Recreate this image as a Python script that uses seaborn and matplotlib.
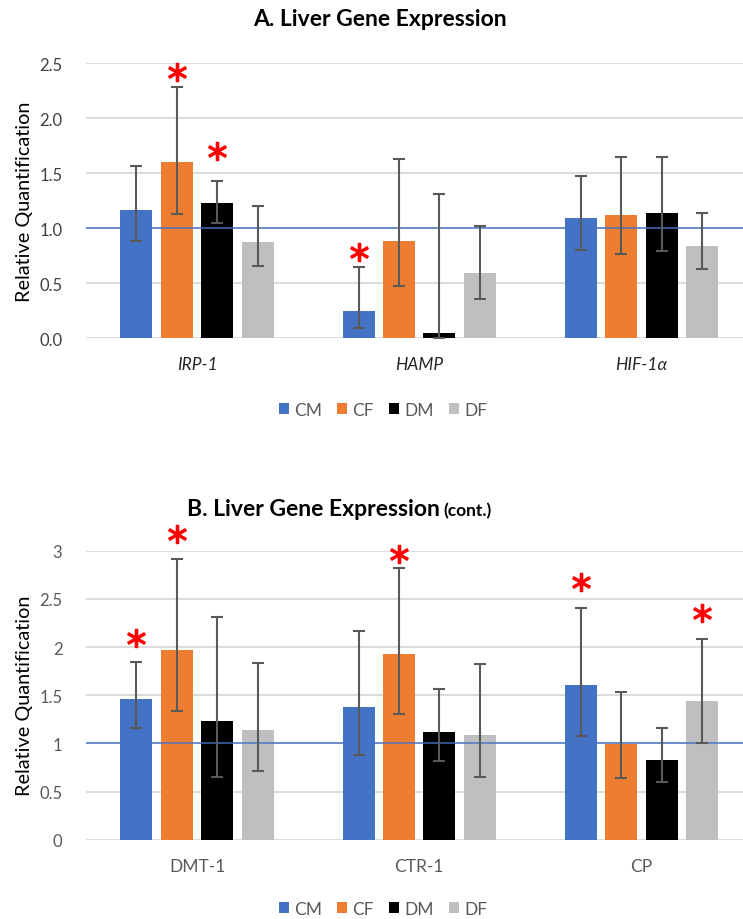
import matplotlib
matplotlib.use("Agg")
import matplotlib.pyplot as plt
import seaborn as sns
import pandas as pd
import numpy as np

groups = ["CM", "CF", "DM", "DF"]
palette = ["#4472C4", "#ED7D31", "#000000", "#BFBFBF"]

# Panel A
genes_a = ["IRP-1", "HAMP", "HIF-1α"]
vals_a = {
    "CM": [1.17, 0.245, 1.094],
    "CF": [1.605, 0.882, 1.124],
    "DM": [1.23, 0.051, 1.142],
    "DF": [0.873, 0.594, 0.842],
}
upper_a = {
    "CM": [1.564, 0.645, 1.475],
    "CF": [2.285, 1.63, 1.648],
    "DM": [1.433, 1.309, 1.648],
    "DF": [1.206, 1.021, 1.136],
}
lower_a = {
    "CM": [0.885, 0.096, 0.806],
    "CF": [1.127, 0.478, 0.769],
    "DM": [1.051, 0.0, 0.797],
    "DF": [0.655, 0.355, 0.633],
}
# significance markers: (gene index, group, y in data units)
stars_a = [(0, "CF", 2.424), (0, "DM", 1.705), (1, "CM", 0.787)]

# Panel B
genes_b = ["DMT-1", "CTR-1", "CP"]
vals_b = {
    "CM": [1.46, 1.381, 1.603],
    "CF": [1.966, 1.924, 0.99],
    "DM": [1.229, 1.118, 0.83],
    "DF": [1.142, 1.083, 1.44],
}
upper_b = {
    "CM": [1.848, 2.17, 2.402],
    "CF": [2.917, 2.82, 1.533],
    "DM": [2.315, 1.561, 1.156],
    "DF": [1.831, 1.827, 2.08],
}
lower_b = {
    "CM": [1.156, 0.879, 1.076],
    "CF": [1.333, 1.308, 0.637],
    "DM": [0.651, 0.814, 0.602],
    "DF": [0.713, 0.651, 1.004],
}
stars_b = [(0, "CM", 2.094), (0, "CF", 3.173), (1, "CF", 2.966), (2, "CM", 2.675), (2, "DF", 2.353)]

sns.set_theme(style="white")
plt.rcParams["font.family"] = ["Lato", "DejaVu Sans"]

fig = plt.figure(figsize=(7.43, 9.2), dpi=100)
ax_a = fig.add_axes([0.1157, 0.6312, 0.897, 0.2988])
ax_b = fig.add_axes([0.1157, 0.0862, 0.897, 0.3141])

GRID = "#D9D9D9"
TICK = "#595959"


def draw(ax, genes, vals, upper, lower, stars, ymax, yticks, ytlabels, italic,
         ycol, xcol):
    rows = []
    for g in groups:
        for gene, v in zip(genes, vals[g]):
            rows.append({"gene": gene, "group": g, "value": v})
    df = pd.DataFrame(rows)
    sns.barplot(data=df, x="gene", y="value", hue="group", hue_order=groups,
                palette=palette, saturation=1, width=0.728, gap=0.21,
                errorbar=None, ax=ax, zorder=2, linewidth=0)
    leg = ax.get_legend()
    handles, labels = ax.get_legend_handles_labels()
    if leg is not None:
        leg.remove()
    centers = {}
    for gi, g in enumerate(groups):
        cont = ax.containers[gi]
        xs = np.array([b.get_x() + b.get_width() / 2 for b in cont])
        centers[g] = xs
        v = np.array(vals[g])
        lo = v - np.array(lower[g])
        hi = np.array(upper[g]) - v
        ax.errorbar(xs, v, yerr=[lo, hi], fmt="none", ecolor="#595959",
                    elinewidth=1.5, capsize=4, capthick=1.5, zorder=4)
    ax.axhline(1.0, color="#4472C4", lw=1.3, alpha=0.8, zorder=3)
    for gi, g, y in stars:
        ax.plot(centers[g][gi], y, marker=r"$*$", ms=13, color="#FF0000",
                clip_on=False, zorder=5, linestyle="none")
    ax.set_ylim(0, ymax)
    ax.set_xlim(-0.5, len(genes) - 0.5)
    ax.set_yticks(yticks)
    ax.set_yticklabels(ytlabels)
    ax.yaxis.grid(True, color=GRID, lw=1.3, zorder=0)
    ax.set_axisbelow(True)
    for s in ax.spines.values():
        s.set_visible(False)
    ax.tick_params(axis="y", length=0, pad=17, labelsize=12, labelcolor=ycol)
    ax.tick_params(axis="x", length=0, pad=13, labelsize=12.5, labelcolor=xcol)
    if italic:
        for t in ax.get_xticklabels():
            t.set_fontstyle("italic")
    ax.set_xlabel("")
    ax.set_ylabel("Relative Quantification", fontsize=14.3, color="#000000")
    ax.yaxis.set_label_coords(-0.079, 0.5)
    return handles, labels


h, l = draw(ax_a, genes_a, vals_a, upper_a, lower_a, stars_a, 2.5,
            [0, 0.5, 1.0, 1.5, 2.0, 2.5], ["0.0", "0.5", "1.0", "1.5", "2.0", "2.5"], True,
            "#404040", "#262626")
draw(ax_b, genes_b, vals_b, upper_b, lower_b, stars_b, 3,
     [0, 0.5, 1, 1.5, 2, 2.5, 3], ["0", "0.5", "1", "1.5", "2", "2.5", "3"], False,
     "#595959", "#595959")

for yc in (1 - 410.7 / 920, 1 - 910 / 920):
    lg = fig.legend(h, l, loc="center", bbox_to_anchor=(383 / 743, yc), ncol=4,
                    frameon=False, fontsize=12.5, handlelength=0.6, handleheight=0.6,
                    handletextpad=0.3, columnspacing=0.85)
    for t in lg.get_texts():
        t.set_color(TICK)

fig.text(380 / 743, 1 - 19 / 920, "A. Liver Gene Expression", ha="center", va="center",
         fontsize=16.5, fontweight="bold", color="#000000")
base_y = 1 - 516 / 920
tb = fig.text(187 / 743, base_y, "B. Liver Gene Expression", ha="left", va="baseline",
              fontsize=16.5, fontweight="bold", color="#000000")
fig.canvas.draw()
bb = tb.get_window_extent()
fig.text(bb.x1 / fig.bbox.width + 4 / 743, base_y, "(cont.)", ha="left", va="baseline",
         fontsize=12.5, fontweight="bold", color="#000000")

fig.savefig("out.png", dpi=100)
